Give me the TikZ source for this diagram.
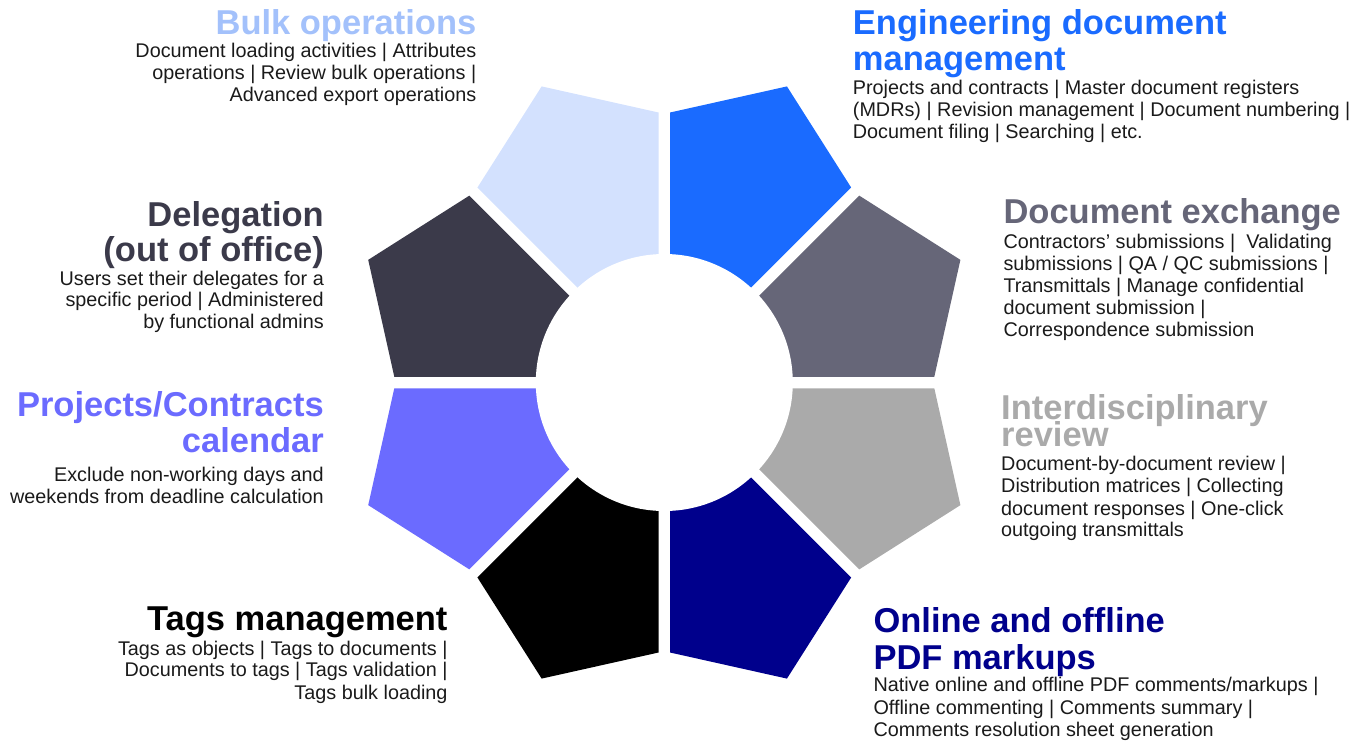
\documentclass[tikz,border=0pt]{standalone}
\usepackage{fontspec}
\setmainfont{Liberation Sans}
\usetikzlibrary{calc}
\definecolor{cBulk}{HTML}{D3E1FE}
\definecolor{cBulkT}{HTML}{A3C1FB}
\definecolor{cEng}{HTML}{1A6BFF}
\definecolor{cExch}{HTML}{666678}
\definecolor{cInter}{HTML}{AAAAAA}
\definecolor{cOnline}{HTML}{00008C}
\definecolor{cTags}{HTML}{000000}
\definecolor{cProj}{HTML}{6B6BFF}
\definecolor{cDeleg}{HTML}{3B3A4A}
\definecolor{cBody}{HTML}{1A1A1A}
\begin{document}
\begin{tikzpicture}[x=1pt,y=-1pt,
  ttl/.style={font=\fontsize{34.5}{36}\selectfont\bfseries, inner sep=0pt},
  bdy/.style={font=\fontsize{19.8}{22}\selectfont, inner sep=0pt, text=cBody},
  lt/.style={anchor=base west}, rt/.style={anchor=base east}]
\useasboundingbox (0,0) rectangle (1362,742);
\coordinate (O) at (664.3,382.5);
\foreach \a/\c in {-67.5/cEng, -22.5/cExch, 22.5/cInter, 67.5/cOnline, 112.5/cTags, 157.5/cProj, 202.5/cDeleg, 247.5/cBulk}{
  \fill[\c] ($(O)+(\a:15)$) -- ($(O)+(\a-22.5:270)+(\a+67.5:5.75)$) -- ($(O)+(\a:320.5)$) -- ($(O)+(\a+22.5:270)+(\a-67.5:5.75)$) -- cycle;
}
\fill[white] (O) circle (128.5pt);
% Bulk operations
\node[ttl, rt, text=cBulkT] (bulkT) at (476.5,34.5) {Bulk operations};
\node[bdy, rt] (bulk1) at (476.5,57.5) {Document loading activities | Attributes};
\node[bdy, rt] (bulk2) at (476.5,79.5) {operations | Review bulk operations |};
\node[bdy, rt] (bulk3) at (476.5,101.7) {Advanced export operations};
% Engineering
\node[ttl, lt, text=cEng] (engT1) at (852.7,34.3) {Engineering document};
\node[ttl, lt, text=cEng] (engT2) at (852.7,70) {management};
\node[bdy, lt] (eng1) at (852.7,94.3) {Projects and contracts | Master document registers};
\node[bdy, lt] (eng2) at (852.7,116.7) {(MDRs) | Revision management | Document numbering |};
\node[bdy, lt] (eng3) at (852.7,138.3) {Document filing | Searching | etc.};
% Document exchange
\node[ttl, lt, text=cExch] (exT) at (1003.3,223.3) {Document exchange};
\node[bdy, lt] (ex1) at (1003.3,248.3) {Contractors’ submissions | \ Validating};
\node[bdy, lt] (ex2) at (1003.3,270) {submissions | QA / QC submissions |};
\node[bdy, lt] (ex3) at (1003.3,292.7) {Transmittals | Manage confidential};
\node[bdy, lt] (ex4) at (1003.3,314.3) {document submission |};
\node[bdy, lt] (ex5) at (1003.3,336.7) {Correspondence submission};
% Delegation
\node[ttl, rt, text=cDeleg] (delT1) at (324,226.7) {Delegation};
\node[ttl, rt, text=cDeleg] (delT2) at (324,261.7) {(out of office)};
\node[bdy, rt] (del1) at (324,285) {Users set their delegates for a};
\node[bdy, rt] (del2) at (324,306.7) {specific period | Administered};
\node[bdy, rt] (del3) at (324,328.3) {by functional admins};
% Projects
\node[ttl, rt, text=cProj] (prT1) at (324,416) {Projects/Contracts};
\node[ttl, rt, text=cProj] (prT2) at (324,452.7) {calendar};
\node[bdy, rt] (pr1) at (324,481.7) {Exclude non-working days and};
\node[bdy, rt] (pr2) at (324,503.3) {weekends from deadline calculation};
% Tags
\node[ttl, rt, text=cTags] (tgT) at (447.7,630.7) {Tags management};
\node[bdy, rt] (tg1) at (447.7,655) {Tags as objects | Tags to documents |};
\node[bdy, rt] (tg2) at (447.7,676.7) {Documents to tags | Tags validation |};
\node[bdy, rt] (tg3) at (447.7,699.3) {Tags bulk loading};
% Interdisciplinary
\node[ttl, lt, text=cInter] (inT1) at (1001,419.3) {Interdisciplinary};
\node[ttl, lt, text=cInter] (inT2) at (1001,446) {review};
\node[bdy, lt] (in1) at (1001,470) {Document-by-document review |};
\node[bdy, lt] (in2) at (1001,492.3) {Distribution matrices | Collecting};
\node[bdy, lt] (in3) at (1001,515) {document responses | One-click};
\node[bdy, lt] (in4) at (1001,536.7) {outgoing transmittals};
% Online
\node[ttl, lt, text=cOnline] (onT1) at (873.3,632.3) {Online and offline};
\node[ttl, lt, text=cOnline] (onT2) at (873.3,669.3) {PDF markups};
\node[bdy, lt] (on1) at (873.3,691.7) {Native online and offline PDF comments/markups |};
\node[bdy, lt] (on2) at (873.3,714) {Offline commenting | Comments summary |};
\node[bdy, lt] (on3) at (873.3,736) {Comments resolution sheet generation};
\end{tikzpicture}
\end{document}
